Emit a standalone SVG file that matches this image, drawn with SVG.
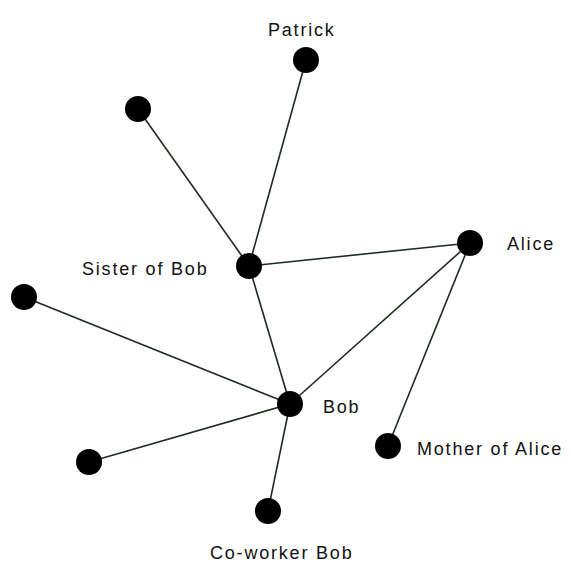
<svg xmlns="http://www.w3.org/2000/svg" width="571" height="562" viewBox="0 0 571 562">
<style>
.edge{stroke:#1f2a1f;stroke-width:1.6;fill:none}
.node{fill:#000}
.lbl{font-family:"Liberation Sans",Arial,sans-serif;font-size:18px;letter-spacing:1.8px;fill:#111}
</style>
<rect width="571" height="562" fill="#fff"/>
<g id="connectors">
<line class="edge" x1="306" y1="60" x2="249" y2="266"/>
<line class="edge" x1="138" y1="109" x2="249" y2="266"/>
<line class="edge" x1="249" y1="266" x2="470" y2="243"/>
<line class="edge" x1="249" y1="266" x2="290" y2="404"/>
<line class="edge" x1="470" y1="243" x2="290" y2="404"/>
<line class="edge" x1="470" y1="243" x2="388" y2="446"/>
<line class="edge" x1="24" y1="297" x2="290" y2="404"/>
<line class="edge" x1="89" y1="462" x2="290" y2="404"/>
<line class="edge" x1="290" y1="404" x2="268" y2="511"/>
</g>
<g id="patrick"><circle class="node" cx="306" cy="60" r="13"/><text class="lbl" x="268" y="36">Patrick</text></g>
<g id="topleft"><circle class="node" cx="138" cy="109" r="13"/></g>
<g id="sister"><circle class="node" cx="249" cy="266" r="13"/><text class="lbl" x="82" y="275">Sister of Bob</text></g>
<g id="alice"><circle class="node" cx="470" cy="243" r="13"/><text class="lbl" x="507" y="250">Alice</text></g>
<g id="left"><circle class="node" cx="24" cy="297" r="13"/></g>
<g id="bob"><circle class="node" cx="290" cy="404" r="13"/><text class="lbl" x="323" y="413">Bob</text></g>
<g id="mother"><circle class="node" cx="388" cy="446" r="13"/><text class="lbl" x="417" y="455">Mother of Alice</text></g>
<g id="bottomleft"><circle class="node" cx="89" cy="462" r="13"/></g>
<g id="coworker"><circle class="node" cx="268" cy="511" r="13"/><text class="lbl" x="210" y="559">Co-worker Bob</text></g>
</svg>
